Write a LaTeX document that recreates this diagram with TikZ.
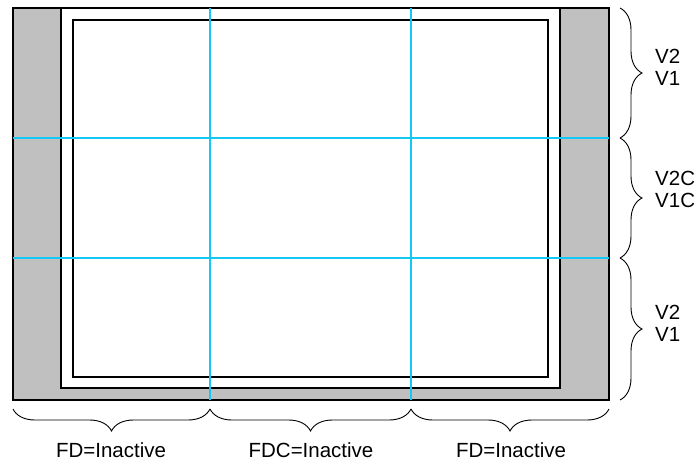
\documentclass[tikz,border=0pt]{standalone}
\usepackage{fontspec}
\setmainfont{Liberation Sans}
\usetikzlibrary{decorations.pathreplacing}
\definecolor{bezel}{RGB}{192,192,192}
\definecolor{gridcyan}{RGB}{20,200,245}

\begin{document}
\begin{tikzpicture}[x=1pt, y=-1pt,
    frame/.style={draw=black, line width=1.6pt},
    gridline/.style={draw=gridcyan, line width=1.6pt},
    span/.style={draw, line width=0.9pt, decorate, decoration={brace, amplitude=22pt}},
    lbl/.style={font=\fontsize{20.5}{22}\selectfont, align=left, inner sep=0pt}]
    \useasboundingbox (0,0) rectangle (698,466);

    % Panel outline and active area
    \coordinate (tl) at (13,8);
    \coordinate (br) at (609,400);
    \draw[frame, fill=bezel] (tl) rectangle (br);
    \draw[frame, fill=white] (61,8) rectangle (560,388);
    \draw[frame] (73,20) rectangle (548,377);

    % Zone grid
    \draw[gridline] (210,8) -- (210,400);
    \draw[gridline] (411,8) -- (411,400);
    \draw[gridline] (13,138) -- (609,138);
    \draw[gridline] (13,258) -- (609,258);

    % Brace end points -- right side and bottom
    \coordinate (r0) at (620,8);
    \coordinate (r1) at (620,138);
    \coordinate (r2) at (620,258);
    \coordinate (r3) at (620,400);
    \coordinate (b0) at (13,409);
    \coordinate (b1) at (210,409);
    \coordinate (b2) at (411,409);
    \coordinate (b3) at (609,409);

    % Braces
    \draw[span] (r0) -- (r1);
    \draw[span] (r1) -- (r2);
    \draw[span] (r2) -- (r3);
    \draw[span] (b1) -- (b0);
    \draw[span] (b2) -- (b1);
    \draw[span] (b3) -- (b2);

    % Labels
    \node[lbl, anchor=west] (top) at (655,67) {V2\\V1};
    \node[lbl, anchor=west] (mid) at (655,189) {V2C\\V1C};
    \node[lbl, anchor=west] (bot) at (655,323) {V2\\V1};
    \node[lbl] (left) at (111,450) {FD=Inactive};
    \node[lbl] (centre) at (311,450) {FDC=Inactive};
    \node[lbl] (right) at (511,450) {FD=Inactive};
\end{tikzpicture}
\end{document}
